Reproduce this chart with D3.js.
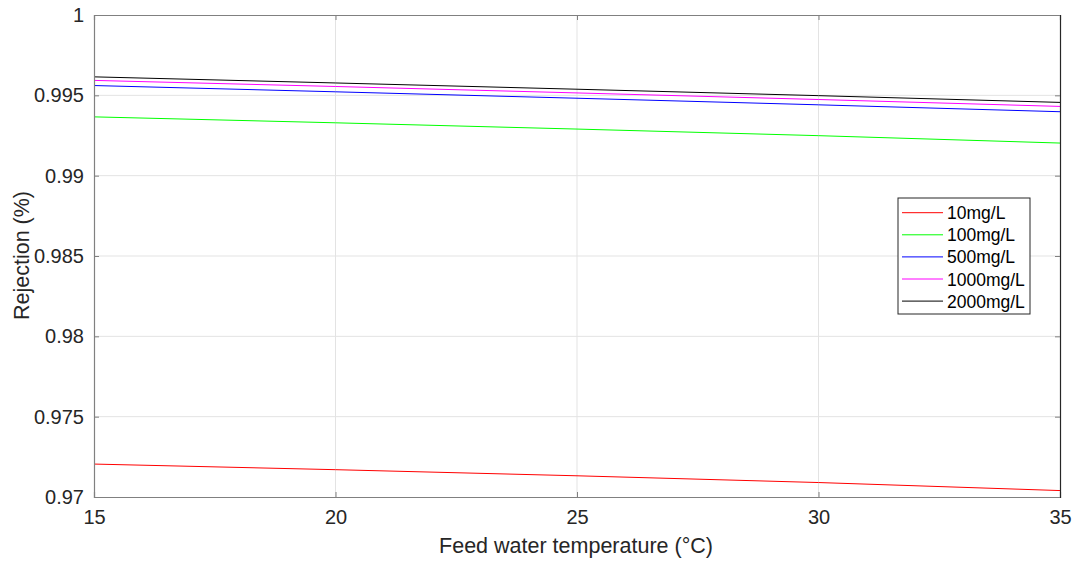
<!DOCTYPE html>
<html>
<head>
<meta charset="utf-8">
<script src="https://cdn.jsdelivr.net/npm/d3@7"></script>
<style>
  body { margin: 0; background: #fff; }
  svg { font-family: "Liberation Sans", Arial, Helvetica, sans-serif; }
</style>
</head>
<body>
<svg></svg>
<script>
// Data
let temps = [15, 20, 25, 30, 35]
let seriesNames = ['10mg/L', '100mg/L', '500mg/L', '1000mg/L', '2000mg/L']
let seriesColors = ['#ff0000', '#00ff00', '#0000ff', '#ff00ff', '#000000']
let r10 = [0.97205, 0.97170, 0.97132, 0.97090, 0.97040]
let r100 = [0.99366, 0.99329, 0.99290, 0.99249, 0.99203]
let r500 = [0.99561, 0.99522, 0.99482, 0.99441, 0.99398]
let r1000 = [0.99593, 0.99555, 0.99515, 0.99474, 0.99431]
let r2000 = [0.99615, 0.99577, 0.99538, 0.99498, 0.99456]
let allSeries = [r10, r100, r500, r1000, r2000]
let xTicks = [15, 20, 25, 30, 35]
let yTicks = [0.97, 0.975, 0.98, 0.985, 0.99, 0.995, 1]

let width = 1076
let height = 563
let mLeft = 94, mRight = 1060, mTop = 15, mBottom = 497

let svg = d3.select('svg').attr('width', width).attr('height', height)

let xScale = d3.scaleLinear().domain([15, 35]).range([mLeft, mRight])
let yScale = d3.scaleLinear().domain([0.97, 1]).range([mBottom, mTop])

// Grid
svg.append('g').selectAll('line').data(xTicks.slice(1, -1)).enter().append('line')
    .attr('x1', d => xScale(d)).attr('x2', d => xScale(d))
    .attr('y1', mTop).attr('y2', mBottom)
    .attr('stroke', '#e3e3e3').attr('stroke-width', 1)
svg.append('g').selectAll('line').data(yTicks.slice(1, -1)).enter().append('line')
    .attr('x1', mLeft).attr('x2', mRight)
    .attr('y1', d => yScale(d)).attr('y2', d => yScale(d))
    .attr('stroke', '#e3e3e3').attr('stroke-width', 1)

// Lines
let line = d3.line()
    .x((d, i) => xScale(temps[i]))
    .y(d => yScale(d))

svg.append('g').selectAll('path').data(allSeries).enter().append('path')
    .attr('d', d => line(d))
    .attr('fill', 'none')
    .attr('stroke', (d, i) => seriesColors[i])
    .attr('stroke-width', 1)

// Axes (ticks inside)
let xAxis = d3.axisBottom(xScale).tickValues(xTicks).tickSize(-5).tickPadding(13).tickFormat(d3.format('d'))
let yAxis = d3.axisLeft(yScale).tickValues(yTicks).tickSize(-5).tickPadding(10).tickFormat(d => d === 1 ? '1' : d3.format('.3~f')(d))

let gx = svg.append('g').attr('transform', 'translate(0,' + mBottom + ')').call(xAxis)
let gy = svg.append('g').attr('transform', 'translate(' + mLeft + ',0)').call(yAxis)

let xTop = d3.axisTop(xScale).tickValues(xTicks).tickSize(-5).tickFormat('')
let yRight = d3.axisRight(yScale).tickValues(yTicks).tickSize(-5).tickFormat('')
let gxt = svg.append('g').attr('transform', 'translate(0,' + mTop + ')').call(xTop)
let gyr = svg.append('g').attr('transform', 'translate(' + mRight + ',0)').call(yRight)

;[gx, gy, gxt, gyr].forEach(g => {
    g.select('.domain').attr('stroke', '#808080').attr('stroke-width', 1.2)
    g.selectAll('.tick line').attr('stroke', '#808080')
    g.selectAll('.tick text').attr('fill', '#262626').style('font-size', '20px')
        .style('font-family', '"Liberation Sans", Arial, sans-serif')
})
gyr.select('.domain').attr('stroke', '#262626')

// Axis labels
svg.append('text')
    .attr('x', 576).attr('y', 553)
    .attr('text-anchor', 'middle')
    .attr('fill', '#262626')
    .style('font-size', '21.5px')
    .text('Feed water temperature (°C)')

svg.append('text')
    .attr('transform', 'translate(29,' + 255.5 + ') rotate(-90)')
    .attr('text-anchor', 'middle')
    .attr('fill', '#262626')
    .style('font-size', '21.5px')
    .text('Rejection (%)')

// Legend
let lx = 898, ly = 198, lw = 132, lh = 116
let legend = svg.append('g')
legend.append('rect')
    .attr('x', lx).attr('y', ly).attr('width', lw).attr('height', lh)
    .attr('fill', '#fff').attr('stroke', '#262626').attr('stroke-width', 1)

let items = legend.selectAll('g.item').data(seriesNames).enter().append('g')
    .attr('transform', (d, i) => 'translate(0,' + (212.7 + i * 22.1) + ')')
items.append('line')
    .attr('x1', 902).attr('x2', 943).attr('y1', 0).attr('y2', 0)
    .attr('stroke', (d, i) => seriesColors[i]).attr('stroke-width', 1)
items.append('text')
    .attr('x', 947).attr('y', 6.5)
    .attr('fill', '#000')
    .style('font-size', '17.5px')
    .text(d => d)
</script>
</body>
</html>
